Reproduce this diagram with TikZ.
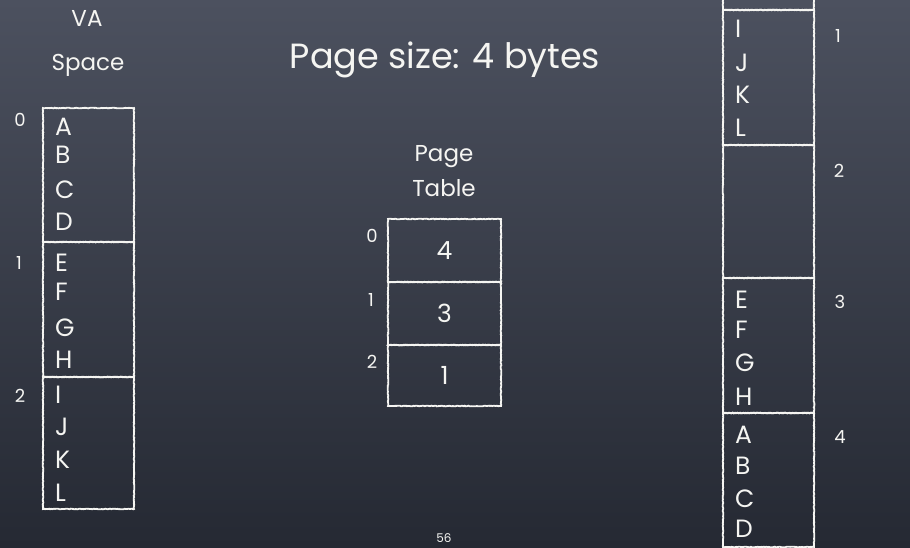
\documentclass[tikz,border=0pt]{standalone}
\usepackage{fontspec}
\setmainfont{Poppins}
\usetikzlibrary{decorations.pathmorphing}
\definecolor{bgtop}{HTML}{4C515F}
\definecolor{bgbot}{HTML}{252933}
\definecolor{chalk}{HTML}{F5F5F2}
\begin{document}
\begin{tikzpicture}[x=1pt,y=-1pt,
  membox/.style={draw=chalk, line width=1.8pt, inner sep=0pt, outer sep=0pt, anchor=north west,
    decorate, decoration={random steps, segment length=1.2pt, amplitude=0.35pt}},
  letter/.style={text=chalk, font=\fontsize{25}{25}\selectfont, anchor=west, inner sep=0pt, text depth=0pt},
  idx/.style={text=chalk, font=\fontsize{18}{18}\selectfont, inner sep=0pt, text depth=0pt},
  head/.style={text=chalk, font=\fontsize{23}{23}\selectfont, inner sep=0pt, anchor=base},
  ptnum/.style={text=chalk, font=\fontsize{25}{25}\selectfont, inner sep=0pt, text depth=0pt}]
\useasboundingbox (0,0) rectangle (910,547);
\clip (0,0) rectangle (910,547);
\shade[top color=bgtop, bottom color=bgbot] (0,0) rectangle (910,547);

% title
\node[text=chalk, font=\fontsize{35}{35}\selectfont, inner sep=0pt, anchor=base] (title) at (445,68) {Page size: 4 bytes};

% VA space
\node[head] (vahead) at (87,26) {VA};
\node[head] (vahead2) at (88,70) {Space};
\node[membox, minimum width=91pt, minimum height=134pt] (va0) at (43,108) {};
\node[membox, minimum width=91pt, minimum height=135pt] (va1) at (43,242) {};
\node[membox, minimum width=91pt, minimum height=132pt] (va2) at (43,377) {};
\node[idx] (vi0) at (20,120) {0};
\node[idx] (vi1) at (19,263) {1};
\node[idx] (vi2) at (20,396) {2};
\node[letter] (vA) at (55,127) {A};
\node[letter] (vB) at (55,155) {B};
\node[letter] (vC) at (55,190) {C};
\node[letter] (vD) at (55,222) {D};
\node[letter] (vE) at (55,263) {E};
\node[letter] (vF) at (55,292) {F};
\node[letter] (vG) at (55,328) {G};
\node[letter] (vH) at (55,360) {H};
\node[letter] (vI) at (55,395) {I};
\node[letter] (vJ) at (55,427) {J};
\node[letter] (vK) at (55,460) {K};
\node[letter] (vL) at (55,493) {L};

% page table
\node[head] (pthead) at (444,161) {Page};
\node[head] (pthead2) at (444,196) {Table};
\node[membox, minimum width=113pt, minimum height=63pt] (pt0) at (388,219) {};
\node[membox, minimum width=113pt, minimum height=63pt] (pt1) at (388,282) {};
\node[membox, minimum width=113pt, minimum height=61pt] (pt2) at (388,345) {};
\node[ptnum] (p0) at (pt0.center) {4};
\node[ptnum] (p1) at (pt1.center) {3};
\node[ptnum] (p2) at (pt2.center) {1};
\node[idx] (pi0) at (372,236) {0};
\node[idx] (pi1) at (371,300) {1};
\node[idx] (pi2) at (372,362) {2};

% physical memory
\node[membox, minimum width=91pt, minimum height=40pt] (pm0) at (723,-30) {};
\node[membox, minimum width=91pt, minimum height=135pt] (pm1) at (723,10) {};
\node[membox, minimum width=91pt, minimum height=133pt] (pm2) at (723,145) {};
\node[membox, minimum width=91pt, minimum height=135pt] (pm3) at (723,278) {};
\node[membox, minimum width=91pt, minimum height=134pt] (pm4) at (723,413) {};
\node[idx] (mi1) at (838,36) {1};
\node[idx] (mi2) at (839,171) {2};
\node[idx] (mi3) at (840,302) {3};
\node[idx] (mi4) at (840,437) {4};
\node[letter] (mI) at (735,29) {I};
\node[letter] (mJ) at (735,63) {J};
\node[letter] (mK) at (735,95) {K};
\node[letter] (mL) at (735,128) {L};
\node[letter] (mE) at (735,300) {E};
\node[letter] (mF) at (735,330) {F};
\node[letter] (mG) at (735,363) {G};
\node[letter] (mH) at (735,397) {H};
\node[letter] (mA) at (735,435) {A};
\node[letter] (mB) at (735,466) {B};
\node[letter] (mC) at (735,499) {C};
\node[letter] (mD) at (735,529) {D};

% page number
\node[text=chalk, font=\fontsize{12}{12}\selectfont, inner sep=0pt, anchor=base] (pgno) at (444,542) {56};
\end{tikzpicture}
\end{document}
